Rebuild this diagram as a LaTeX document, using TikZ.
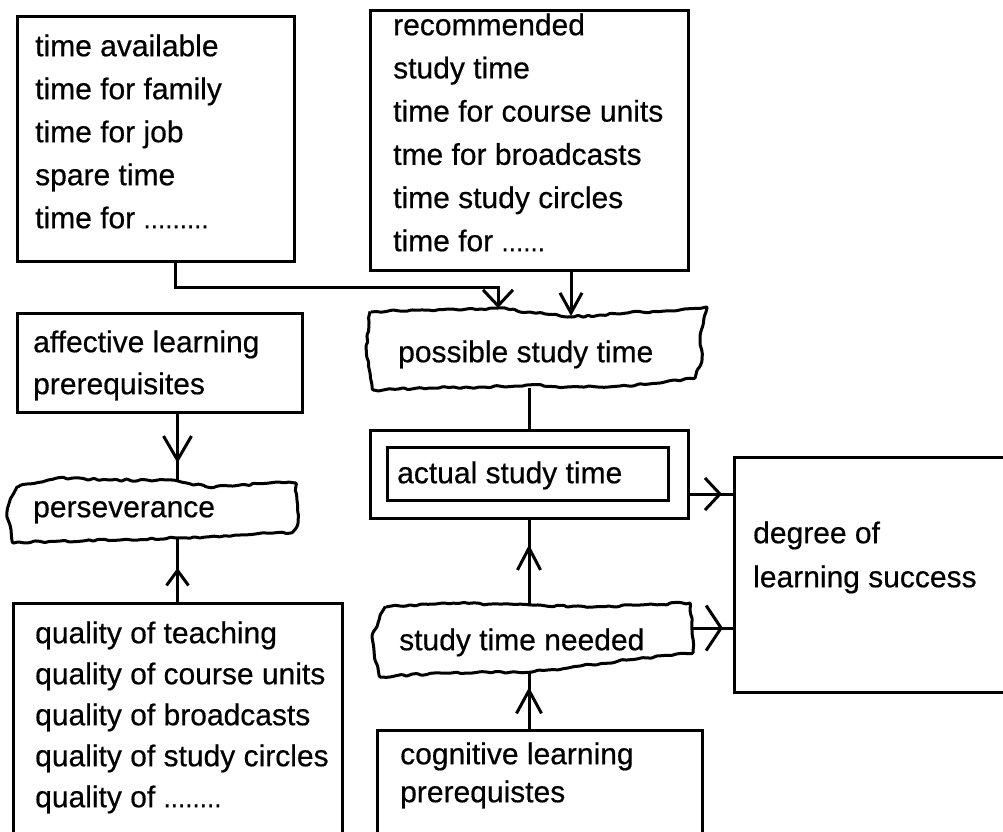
\documentclass[tikz,border=0pt]{standalone}
\usepackage{fontspec}
\setmainfont{Liberation Sans}[FakeBold=0.5]
\usetikzlibrary{arrows.meta,decorations.pathmorphing,decorations.markings,calc}
\newcommand\fl{\rule{0pt}{24pt}}
\newcommand\dd[1]{{\fontsize{26}{26}\selectfont #1}}
\begin{document}
\begin{tikzpicture}[x=1pt,y=1pt,
  box/.style 2 args={draw, line width=3pt, inner sep=0pt, outer sep=0pt, anchor=north west, minimum width=#1, minimum height=#2},
  zone/.style 2 args={inner sep=0pt, outer sep=0pt, anchor=north west, minimum width=#1, minimum height=#2},
  txt/.style={anchor=north west, inner sep=0pt, align=left, font=\fontsize{30}{#1}\selectfont},
  txt/.default=43,
  conn/.style={line width=3pt},
  torn/.style={line width=3pt, decorate, decoration={random steps, segment length=5pt, amplitude=1.2pt}, rounded corners=1pt, line join=round},
  endtip/.style 2 args={-{Straight Barb[length=#1, width=#2]}},
  midtip/.style n args={3}{postaction={decorate}, decoration={markings, mark=at position #1 with {\arrow{Straight Barb[length=#2, width=#3]}}}}
]
\pgfmathsetseed{7}
\useasboundingbox (0,0) rectangle (1003,-831);
\clip (0,0) rectangle (1003,-831);

% rectangular boxes
\node[box={277pt}{245pt}] (b1) at (17,-16) {};
\node[box={318pt}{260pt}] (b2) at (370,-10) {};
\node[box={285pt}{99pt}] (aff) at (17,-313) {};
\node[box={329pt}{250pt}] (qual) at (13,-603) {};
\node[box={325pt}{125pt}] (cog) at (377,-730) {};
\node[box={281pt}{235pt}] (deg) at (734,-457) {};
\node[box={318pt}{88pt}] (outer) at (370,-430) {};
\node[box={281pt}{53pt}] (inner) at (387,-447) {};

% torn (wavy) boxes: named zones and their outlines
\node[zone={341pt}{80pt}] (pst) at (366,-308) {};
\node[zone={288pt}{58pt}] (pers) at (10,-480) {};
\node[zone={320pt}{69pt}] (need) at (373,-604) {};

\draw[torn] (370,-312) -- (400,-311) -- (427,-310) -- (460,-310) -- (498,-308) -- (535,-313) -- (572,-317) -- (600,-315) -- (627,-313) -- (665,-311) -- (707,-307) -- (703,-325) -- (700,-343) -- (702,-360) -- (695,-378) -- (660,-383) -- (620,-386) -- (567,-387) -- (527,-385) -- (480,-387) -- (430,-388) -- (373,-390) -- (370,-373) -- (366,-347) -- (369,-323) -- cycle;
\draw[torn] (17,-487) -- (57,-478) -- (110,-480) -- (173,-480) -- (207,-487) -- (233,-486) -- (277,-482) -- (296,-483) -- (297,-500) -- (298,-523) -- (293,-532) -- (240,-535) -- (177,-538) -- (120,-540) -- (60,-541) -- (13,-543) -- (11,-530) -- (7,-517) -- (10,-500) -- cycle;
\draw[torn] (385,-607) -- (443,-603) -- (490,-604) -- (532,-605) -- (593,-607) -- (640,-605) -- (690,-603) -- (692,-630) -- (693,-653) -- (627,-660) -- (580,-666) -- (532,-672) -- (443,-673) -- (380,-677) -- (375,-660) -- (372,-637) -- (379,-620) -- cycle;

% texts
\node[txt] (tb1) at (35,-32) {\fl time available\\time for family\\time for job\\spare time\\time for \dd{.........}};
\node[txt=43.2] (tb2) at (393,-11) {\fl recommended\\study time\\time for course units\\tme for broadcasts\\time study circles\\time for \dd{......}};
\node[txt=42] (taff) at (33,-328) {\fl affective learning\\prerequisites};
\node[txt] (tpers) at (33,-493) {\fl perseverance};
\node[txt=41] (tqual) at (35,-619) {\fl quality of teaching\\quality of course units\\quality of broadcasts\\quality of study circles\\quality of \dd{........}};
\node[txt] (tpst) at (398,-338) {\fl possible study time};
\node[txt] (tinner) at (397,-459) {\fl actual study time};
\node[txt] (tneed) at (399,-626) {\fl study time needed};
\node[txt=38] (tcog) at (400,-740) {\fl cognitive learning\\prerequistes};
\node[txt=44] (tdeg) at (753,-519) {\fl degree of\\learning success};

% connectors
\coordinate (c1) at ([xshift=19.5pt]b1.south);
\coordinate (j1) at (498,-287);
\draw[conn, endtip={16pt}{30pt}] (c1) |- (j1) -- (j1 |- pst.north);
\coordinate (c2) at ([xshift=42pt]b2.south);
\draw[conn, endtip={20pt}{22pt}] (c2) -- ($(c2 |- pst.north)+(0,-8)$);
\draw[conn] (outer.north |- pst.south) -- (outer.north);
\draw[conn, midtip={0.75}{24pt}{28pt}] (qual.north |- aff.south) -- (qual.north |- pers.north);
\draw[conn, midtip={0.54}{15pt}{22pt}] (qual.north) -- (qual.north |- pers.south);
\draw[conn, midtip={0.69}{22pt}{23pt}] (outer.south |- need.north) -- (outer.south);
\draw[conn, midtip={0.75}{23pt}{25pt}] (outer.south |- cog.north) -- (outer.south |- need.south);
\coordinate (a1) at ([yshift=-20pt]outer.east);
\draw[conn, midtip={0.74}{15pt}{32pt}] (a1) -- (a1 -| deg.west);
\coordinate (a2) at ([yshift=10.5pt]need.east);
\draw[conn, midtip={0.73}{15pt}{45pt}] (a2) -- (a2 -| deg.west);
\end{tikzpicture}
\end{document}
